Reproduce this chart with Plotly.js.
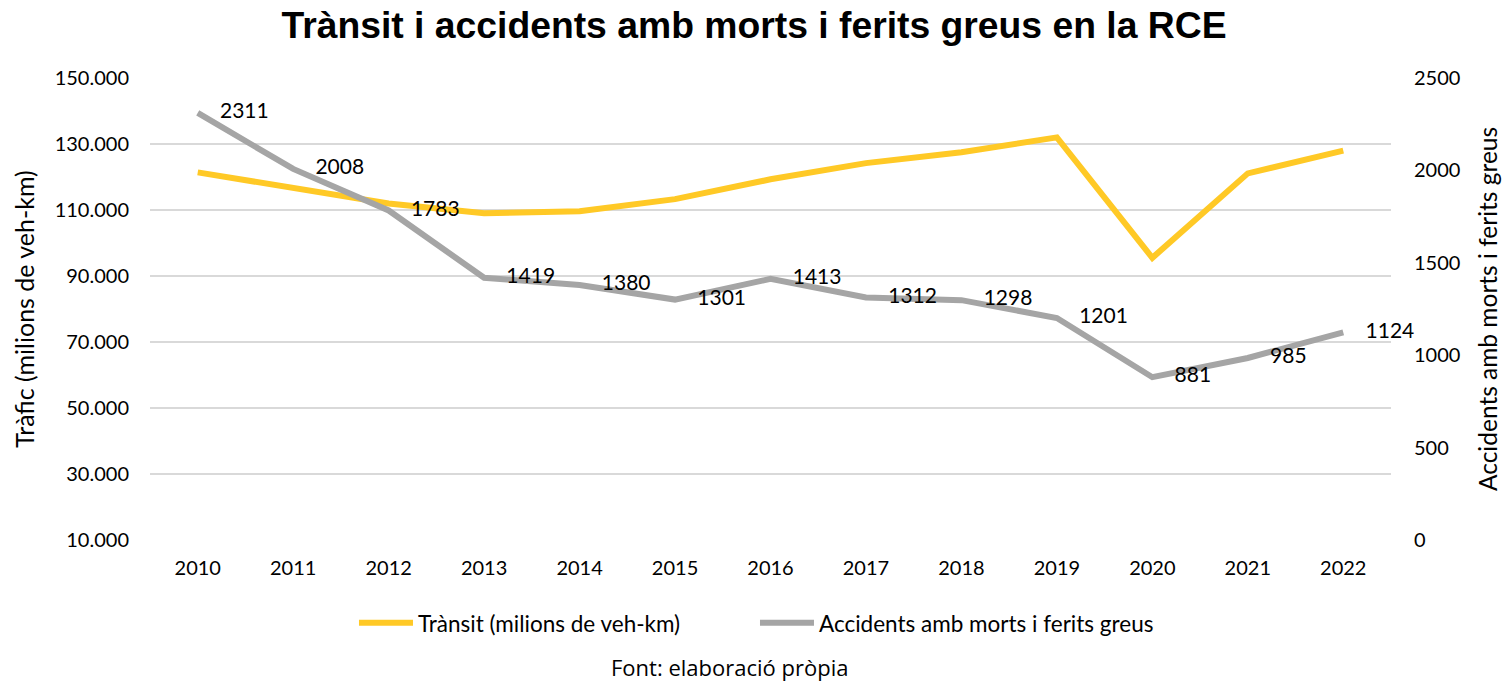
<!DOCTYPE html>
<html>
<head>
<meta charset="utf-8">
<script src="https://cdn.plot.ly/plotly-3.0.1.min.js"></script>
<style>html,body{margin:0;padding:0;background:#fff;}#chart{width:1508px;height:681px;}</style>
</head>
<body>
<div id="chart"></div>
<script>
const years = ['2010','2011','2012','2013','2014','2015','2016','2017','2018','2019','2020','2021','2022'];
const transit = [121400, 116600, 112000, 109000, 109600, 113300, 119300, 124200, 127500, 132000, 95500, 121100, 128000];
const accidents = [2311, 2008, 1783, 1419, 1380, 1301, 1413, 1312, 1298, 1201, 881, 985, 1124];
const leftTicks = [10000, 30000, 50000, 70000, 90000, 110000, 130000, 150000];
const leftTickText = ['10.000','30.000','50.000','70.000','90.000','110.000','130.000','150.000'];
const rightTicks = [0, 500, 1000, 1500, 2000, 2500];

const FONT = 'Lato, "Open Sans", sans-serif';

const traces = [
  {
    x: years, y: transit, type: 'scatter', mode: 'lines',
    name: 'Trànsit (milions de veh-km)',
    line: {color: '#FFC926', width: 6},
    yaxis: 'y', hoverinfo: 'x+y'
  },
  {
    x: years, y: accidents, type: 'scatter', mode: 'lines',
    name: 'Accidents amb morts i ferits greus',
    line: {color: '#A5A5A5', width: 6},
    yaxis: 'y2', hoverinfo: 'x+y'
  },
  {
    x: years, y: accidents, type: 'scatter', mode: 'markers+text',
    text: accidents.map(String), textposition: 'middle right',
    textfont: {family: FONT, size: 21, color: '#000'},
    marker: {size: 34, color: 'rgba(0,0,0,0)'},
    cliponaxis: false,
    yaxis: 'y2', showlegend: false, hoverinfo: 'skip'
  }
];

const layout = {
  width: 1508, height: 681,
  margin: {l: 150, r: 117, t: 78, b: 141},
  paper_bgcolor: '#fff', plot_bgcolor: '#fff',
  font: {family: FONT, size: 20, color: '#000'},
  title: {
    text: '<b>Trànsit i accidents amb morts i ferits greus en la RCE</b>',
    font: {family: '"Liberation Sans", Arial, sans-serif', size: 37.3, color: '#000'},
    x: 0.5, xref: 'container', xanchor: 'center',
    y: 0.963, yref: 'container', yanchor: 'middle'
  },
  xaxis: {
    type: 'category', range: [-0.5, 12.5], showgrid: false, zeroline: false, showline: false,
    ticks: '', ticklabelstandoff: 14,
    tickfont: {family: FONT, size: 20, color: '#000'}
  },
  yaxis: {
    range: [10000, 150000], tickvals: leftTicks, ticktext: leftTickText,
    showgrid: true, gridcolor: '#D9D9D9', gridwidth: 1.5, zeroline: false, showline: false,
    ticks: '', ticklabelstandoff: 20,
    tickfont: {family: FONT, size: 20, color: '#000'},
    title: {text: 'Tràfic (milions de veh-km)', font: {family: FONT, size: 25, color: '#000'}, standoff: 12},
    automargin: false
  },
  yaxis2: {
    range: [0, 2500], tickvals: rightTicks, overlaying: 'y', side: 'right',
    showgrid: false, zeroline: false, showline: false,
    ticks: '', ticklabelstandoff: 22,
    tickfont: {family: FONT, size: 20, color: '#000'},
    title: {text: 'Accidents amb morts i ferits greus', font: {family: FONT, size: 24.5, color: '#000'}, standoff: 20},
    automargin: false
  },
  showlegend: true,
  legend: {
    orientation: 'h', x: 0.4875, xanchor: 'center', y: -0.18, yanchor: 'middle',
    font: {family: FONT, size: 22.5, color: '#000'},
    itemwidth: 54, entrywidth: 332, entrywidthmode: 'pixels', traceorder: 'normal'
  },
  annotations: [
    {
      text: 'Font: elaboració pròpia', xref: 'paper', yref: 'paper',
      x: 0.467, y: -0.275, xanchor: 'center', yanchor: 'middle', showarrow: false,
      font: {family: '"Open Sans", sans-serif', size: 22, color: '#000'}
    }
  ]
};

Plotly.newPlot('chart', traces, layout, {displayModeBar: false, staticPlot: true});
</script>
</body>
</html>
